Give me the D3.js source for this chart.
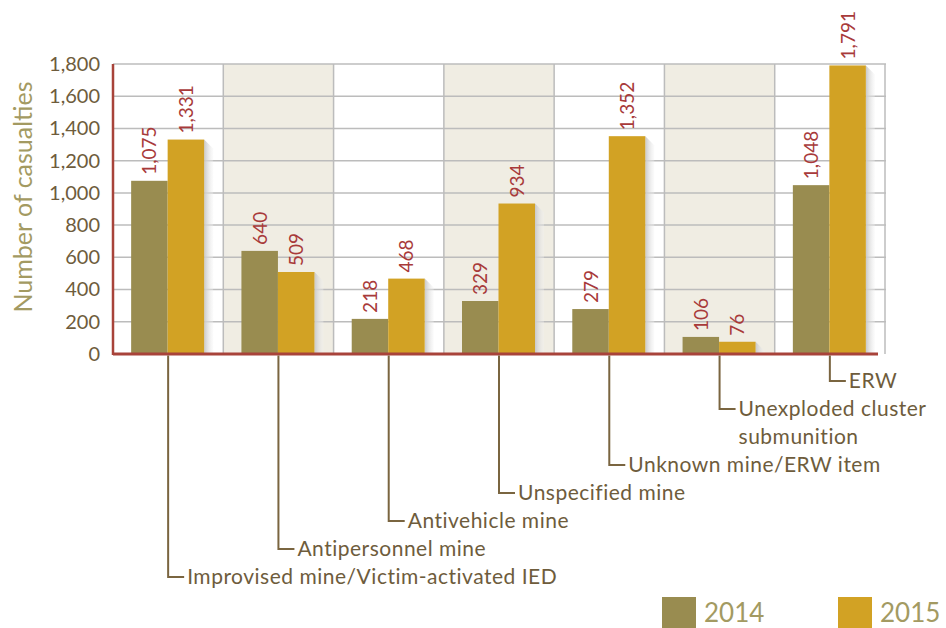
<!DOCTYPE html>
<html>
<head>
<meta charset="utf-8">
<script src="https://cdn.jsdelivr.net/npm/d3@7"></script>
<style>
  body { margin: 0; background: #fff; }
  svg text { font-family: "Lato", "Noto Sans", sans-serif; }
</style>
</head>
<body>
<div id="chart"></div>
<script>
// data
const categories = [
    "Improvised mine/Victim-activated IED",
    "Antipersonnel mine",
    "Antivehicle mine",
    "Unspecified mine",
    "Unknown mine/ERW item",
    "Unexploded cluster submunition",
    "ERW"
];
const categoryLines = [
    ["Improvised mine/Victim-activated IED"],
    ["Antipersonnel mine"],
    ["Antivehicle mine"],
    ["Unspecified mine"],
    ["Unknown mine/ERW item"],
    ["Unexploded cluster", "submunition"],
    ["ERW"]
];
const years = ["2014", "2015"];
const values2014 = [1075, 640, 218, 329, 279, 106, 1048];
const values2015 = [1331, 509, 468, 934, 1352, 76, 1791];
const yTicks = [0, 200, 400, 600, 800, 1000, 1200, 1400, 1600, 1800];

const colors = { "2014": "#998c50", "2015": "#d2a224" };

function main(){
    const width = 946, height = 628;
    const left = 113, right = 885, top = 64, bottom = 354;

    const svg = d3.select("#chart").append("svg")
        .attr("width", width)
        .attr("height", height);

    const defs = svg.append("defs");
    const grad = defs.append("linearGradient").attr("id", "shadow")
        .attr("x1", "0").attr("x2", "1").attr("y1", "0").attr("y2", "0");
    grad.append("stop").attr("offset", "0").attr("stop-color", "#c9c9c9");
    grad.append("stop").attr("offset", "1").attr("stop-color", "#f2f2f2").attr("stop-opacity", 0.3);

    const x0 = d3.scaleBand().domain(categories).range([left, right]);
    const bw = x0.bandwidth();
    const x1 = d3.scaleBand().domain(years).range([bw / 2 - 37, bw / 2 + 36]);
    const y = d3.scaleLinear().domain([0, 1800]).range([bottom, top]);

    const rows = categories.map((c, i) => ({ cat: c, i: i, vals: [values2014[i], values2015[i]] }));

    // alternating shaded bands
    svg.append("g").selectAll("rect")
        .data(rows.filter(d => d.i % 2 === 1))
        .join("rect")
        .attr("x", d => x0(d.cat))
        .attr("y", y(1800))
        .attr("width", bw)
        .attr("height", y(0) - y(1800))
        .attr("fill", "#f0ede3");

    // gridlines
    svg.append("g").selectAll("line")
        .data(yTicks.slice(1))
        .join("line")
        .attr("x1", left).attr("x2", right + 1)
        .attr("y1", d => y(d)).attr("y2", d => y(d))
        .attr("stroke", "#bcbcbc").attr("stroke-width", 1.5);

    // vertical band separators
    svg.append("g").selectAll("line")
        .data(categories.slice(1).concat([null]))
        .join("line")
        .attr("x1", d => d ? x0(d) : right).attr("x2", d => d ? x0(d) : right)
        .attr("y1", y(1800)).attr("y2", y(0))
        .attr("stroke", "#bcbcbc").attr("stroke-width", 1.5);

    // shadows behind the 2015 bars
    svg.append("g").selectAll("path")
        .data(rows)
        .join("path")
        .attr("d", d => {
            const xs = x0(d.cat) + x1("2015") + x1.bandwidth();
            const yt = y(d.vals[1]);
            const s = 9;
            return `M${xs},${yt} L${xs + s},${yt + s} L${xs + s},${y(0)} L${xs},${y(0)} Z`;
        })
        .attr("fill", "url(#shadow)");

    // bars
    const groups = svg.append("g").selectAll("g")
        .data(rows)
        .join("g")
        .attr("transform", d => `translate(${x0(d.cat)},0)`);

    groups.selectAll("rect")
        .data(d => years.map((yr, j) => ({ yr: yr, v: d.vals[j] })))
        .join("rect")
        .attr("x", d => x1(d.yr))
        .attr("y", d => y(d.v))
        .attr("width", x1.bandwidth())
        .attr("height", d => y(0) - y(d.v))
        .attr("fill", d => colors[d.yr]);

    // value labels, rotated
    groups.selectAll("text")
        .data(d => years.map((yr, j) => ({ yr: yr, v: d.vals[j] })))
        .join("text")
        .attr("transform", d => `translate(${x1(d.yr) + x1.bandwidth() / 2 + 7},${y(d.v) - 6}) rotate(-90)`)
        .attr("font-size", 19)
        .attr("fill", "#a83a3a")
        .text(d => d3.format(",")(d.v));

    // y axis
    const yAxis = d3.axisLeft(y).tickValues(yTicks).tickSize(0).tickPadding(13)
        .tickFormat(d3.format(","));
    const ga = svg.append("g").attr("transform", `translate(${left},0)`).call(yAxis);
    ga.select(".domain").remove();
    ga.selectAll("text")
        .attr("font-size", 20)
        .attr("fill", "#6e5c3c")
        .style("font-family", "Lato, 'Noto Sans', sans-serif");

    // axis lines
    svg.append("line")
        .attr("x1", left).attr("x2", left)
        .attr("y1", y(1800)).attr("y2", y(0) + 1)
        .attr("stroke", "#a8433a").attr("stroke-width", 2.5);
    svg.append("line")
        .attr("x1", left).attr("x2", right - 7)
        .attr("y1", y(0)).attr("y2", y(0))
        .attr("stroke", "#a8433a").attr("stroke-width", 3);

    // y axis title
    svg.append("text")
        .attr("transform", `translate(32,197) rotate(-90)`)
        .attr("text-anchor", "middle")
        .attr("font-size", 25)
        .attr("fill", "#a39a62")
        .text("Number of casualties");

    // category leader lines and labels, stacked staircase
    const lineH = 28;
    let ly = 577;
    const labelY = [];
    categoryLines.forEach((lines, i) => {
        if (i > 0) ly -= lineH * lines.length;
        labelY.push(ly);
    });

    const cg = svg.append("g").selectAll("g")
        .data(rows)
        .join("g");

    cg.append("path")
        .attr("d", d => {
            const cx = x0(d.cat) + bw / 2;
            return `M${cx},${y(0) + 1.5} L${cx},${labelY[d.i]} L${cx + 16},${labelY[d.i]}`;
        })
        .attr("fill", "none")
        .attr("stroke", "#7a6540")
        .attr("stroke-width", 2);

    cg.append("text")
        .attr("x", d => x0(d.cat) + bw / 2 + 19)
        .attr("y", d => labelY[d.i])
        .attr("font-size", 21)
        .attr("letter-spacing", 0.5)
        .attr("fill", "#6e5c3c")
        .selectAll("tspan")
        .data(d => categoryLines[d.i].map((t, k) => ({ t: t, k: k, x: x0(d.cat) + bw / 2 + 19 })))
        .join("tspan")
        .attr("x", d => d.x)
        .attr("dy", d => d.k === 0 ? "0.35em" : "1.3em")
        .text(d => d.t);

    // legend
    const lg = svg.append("g").selectAll("g")
        .data(years)
        .join("g")
        .attr("transform", (d, i) => `translate(${662 + i * 176},597)`);
    lg.append("rect")
        .attr("width", 34).attr("height", 31)
        .attr("fill", d => colors[d]);
    lg.append("text")
        .attr("x", 42).attr("y", 25)
        .attr("font-size", 26)
        .attr("fill", "#a39a62")
        .text(d => d);
}

main();
</script>
</body>
</html>
